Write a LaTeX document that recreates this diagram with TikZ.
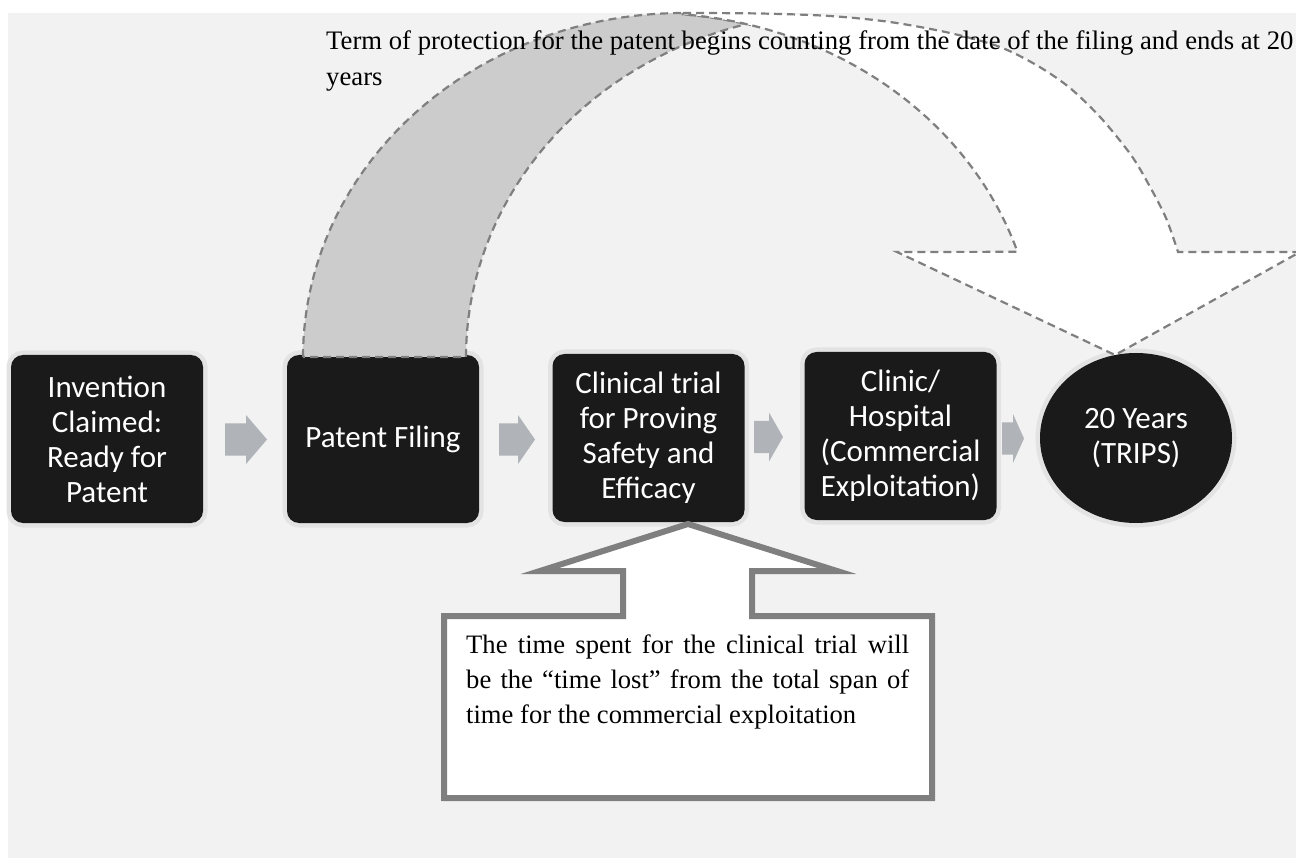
\documentclass[tikz,border=0pt]{standalone}
\usepackage{fontspec}
\setmainfont{Liberation Serif}
\newfontfamily\carlito{Carlito}
\usetikzlibrary{shapes.geometric}
\definecolor{canvas}{HTML}{F2F2F2}
\definecolor{boxfill}{HTML}{1A1A1A}
\definecolor{halo}{HTML}{E3E3E3}
\definecolor{flowgray}{HTML}{B0B3B8}
\definecolor{edgegray}{HTML}{7F7F7F}
\definecolor{bandgray}{HTML}{CCCCCC}
% block arrow between two steps: shaft start, head start, tip, centre line
\newcommand{\flowarr}[4]{%
  \fill[flowgray] (#1,#4-16) -- (#2,#4-16) -- (#2,#4-24.5) -- (#3,#4)
    -- (#2,#4+24.5) -- (#2,#4+16) -- (#1,#4+16) -- cycle;}
\begin{document}
\begin{tikzpicture}[x=1pt,y=-1pt,
  stepbox/.style={rounded corners=12pt, fill=boxfill, text=white,
    font=\carlito\fontsize{31}{35}\selectfont, align=center,
    minimum width=192pt, minimum height=168pt, inner sep=0pt,
    preaction={draw=halo, line width=9pt}},
  endnode/.style={ellipse, fill=boxfill, text=white,
    font=\carlito\fontsize{31}{35}\selectfont, align=center,
    minimum width=192pt, minimum height=170pt, inner sep=0pt,
    preaction={draw=halo, line width=9pt}},
  bandedge/.style={draw=edgegray, line width=2.2pt, dash pattern=on 8pt off 5pt},
  calloutedge/.style={draw=edgegray, line width=6pt, miter limit=10, fill=white}]
\useasboundingbox (0,0) rectangle (1296,858);
\clip (0,0) rectangle (1296,858);
\fill[canvas] (8,13) rectangle (1300,862);

% process steps
\node[stepbox] (inv) at (107,439) {Invention\\Claimed:\\Ready for\\Patent};
\node[stepbox] (fil) at (383,439) {Patent Filing};
\node[stepbox] (cli) at (648.5,438) {Clinical trial\\for Proving\\Safety and\\Efficacy};
\node[stepbox] (hos) at (900.5,436) {Clinic/\\Hospital\\(Commercial\\Exploitation)};
\node[endnode] (yrs) at (1136,438) {20 Years\\(TRIPS)};

% block arrows between the steps
\flowarr{225}{246}{267}{439.5}
\flowarr{499}{518}{535}{439.5}
\flowarr{754}{769}{783}{437}
\flowarr{1002}{1013}{1024}{438.5}

% curved arrow: shaded back band rising from the filing step
\path[fill=bandgray, bandedge]
  (303,357)
  -- plot[domain=180:270, samples=60] ({683+380*cos(\x)}, {357+344*sin(\x)})
  -- plot[domain=-85:-74.9, samples=10] ({649+387*cos(\x)}, {357+344*sin(\x)})
  -- plot[domain=255.4:180, samples=60] ({846+380*cos(\x)}, {357+345*sin(\x)})
  -- cycle;
% curved arrow: front band with its head on the 20-year mark
\path[fill=white, bandedge]
  plot[smooth] coordinates {(683,13) (760,13.5) (830,16) (890,22) (950,33)
    (1000,47) (1038,66) (1070,88) (1101,118) (1131,155) (1149,185)
    (1166,218) (1178,252)}
  -- (1300,252) -- (1115,355) -- (897,252) -- (1017.4,251.8)
  -- plot[domain=-17.8:-85, samples=60] ({649+387*cos(\x)}, {357+344*sin(\x)})
  -- cycle;

% up-arrow callout under the clinical trial step
\path[calloutedge] (444,616) -- (623,616) -- (623,571) -- (540,571)
  -- (688,524) -- (837,571) -- (752,571) -- (752,616) -- (932,616)
  -- (932,798) -- (444,798) -- cycle;
\node[anchor=base west, inner sep=0pt, font=\fontsize{26.6}{35}\selectfont]
  (lost) at (466,653) {\parbox[t]{443pt}{The time spent for the clinical trial will\linebreak
  be the “time lost” from the total span of\linebreak
  time for the commercial exploitation}};

% caption of the curved arrow
\node[anchor=base west, inner sep=0pt, font=\fontsize{26.7}{36}\selectfont]
  (term) at (326,50) {\parbox[t]{1000pt}{\raggedright Term of protection for the patent begins counting from the date of the filing and ends at 20\\years}};
\end{tikzpicture}
\end{document}
